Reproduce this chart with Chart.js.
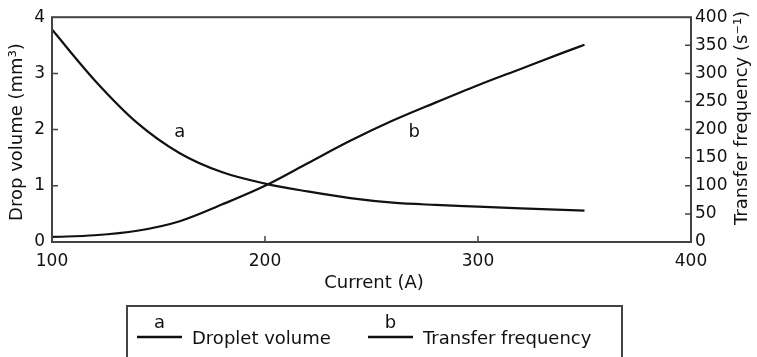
<!DOCTYPE html>
<html>
<head>
<meta charset="utf-8">
<script src="https://cdn.jsdelivr.net/npm/chart.js@4"></script>
<style>
  html, body { margin: 0; padding: 0; background: #fff; }
  canvas { display: block; }
</style>
</head>
<body>
<canvas id="chart" width="757" height="357"></canvas>
<script>
// values
const currents = [100, 120, 140, 160, 180, 200, 220, 240, 260, 280, 300, 320, 340, 350];
const dropVolume = [3.78, 2.88, 2.12, 1.58, 1.24, 1.04, 0.90, 0.78, 0.70, 0.66, 0.63, 0.60, 0.57, 0.56];
const transferFreq = [9, 12, 20, 37, 67, 100, 140, 180, 216, 248, 279, 308, 337, 351];

const seriesNames = ["Droplet volume", "Transfer frequency"];
const seriesLetters = ["a", "b"];
// where the curve letters sit (current, left-axis value)
const letterCurrent = [160, 270];
const letterValue = [1.96, 1.96];

const xTitle = "Current (A)";
const yTitle = "Drop volume (mm³)";
const y2Title = "Transfer frequency (s⁻¹)";

const FONT = "'DejaVu Sans', sans-serif";
const INK = "#111";
const FRAME = "#444";

const points = (ys) => currents.map((c, i) => ({ x: c, y: ys[i] }));

const overlay = {
  id: "overlay",
  afterDraw(chart) {
    const { ctx, chartArea: a, scales } = chart;
    const { x, y, y2 } = scales;
    ctx.save();

    // frame
    ctx.strokeStyle = FRAME;
    ctx.lineWidth = 2;
    ctx.strokeRect(a.left, a.top, a.right - a.left, a.bottom - a.top);

    // inward ticks
    const tl = 6;
    ctx.lineWidth = 1.5;
    ctx.beginPath();
    x.ticks.forEach(t => {
      if (t.value <= x.min || t.value >= x.max) return;
      const px = x.getPixelForValue(t.value);
      ctx.moveTo(px, a.bottom); ctx.lineTo(px, a.bottom - tl);
    });
    y.ticks.forEach(t => {
      if (t.value <= y.min || t.value >= y.max) return;
      const py = y.getPixelForValue(t.value);
      ctx.moveTo(a.left, py); ctx.lineTo(a.left + tl, py);
    });
    y2.ticks.forEach(t => {
      if (t.value <= y2.min || t.value >= y2.max) return;
      const py = y2.getPixelForValue(t.value);
      ctx.moveTo(a.right, py); ctx.lineTo(a.right - tl, py);
    });
    ctx.stroke();

    ctx.fillStyle = INK;
    ctx.font = "18px " + FONT;
    ctx.textAlign = "center";
    ctx.textBaseline = "middle";

    // curve letters
    seriesLetters.forEach((l, i) => {
      ctx.fillText(l, x.getPixelForValue(letterCurrent[i]), y.getPixelForValue(letterValue[i]));
    });

    // axis titles
    ctx.fillText(xTitle, 374, 283);
    ctx.save();
    ctx.translate(17, 132);
    ctx.rotate(-Math.PI / 2);
    ctx.fillText(yTitle, 0, 0);
    ctx.restore();
    ctx.save();
    ctx.translate(742, 118);
    ctx.rotate(-Math.PI / 2);
    ctx.fillText(y2Title, 0, 0);
    ctx.restore();

    // legend
    ctx.strokeStyle = FRAME;
    ctx.lineWidth = 2;
    ctx.strokeRect(127, 306, 495, 70);
    const legendX = [137, 368];
    ctx.lineWidth = 2.5;
    ctx.strokeStyle = INK;
    seriesNames.forEach((name, i) => {
      const lx = legendX[i];
      ctx.beginPath();
      ctx.moveTo(lx, 337); ctx.lineTo(lx + 45, 337);
      ctx.stroke();
      ctx.textAlign = "center";
      ctx.fillText(seriesLetters[i], lx + 22.5, 323);
      ctx.textAlign = "left";
      ctx.fillText(name, lx + 55, 339);
    });

    ctx.restore();
  }
};

const lineStyle = {
  borderColor: INK,
  borderWidth: 2.2,
  pointRadius: 0,
  fill: false,
  cubicInterpolationMode: "monotone",
};

new Chart(document.getElementById("chart").getContext("2d"), {
  type: "line",
  data: {
    datasets: [
      { label: seriesNames[0], data: points(dropVolume), yAxisID: "y", ...lineStyle },
      { label: seriesNames[1], data: points(transferFreq), yAxisID: "y2", ...lineStyle },
    ],
  },
  options: {
    responsive: false,
    animation: false,
    layout: { padding: { top: 17 } },
    plugins: { legend: { display: false }, tooltip: { enabled: false } },
    scales: {
      x: {
        type: "linear",
        min: 100, max: 400,
        grid: { display: false, drawTicks: false },
        border: { display: false },
        ticks: { stepSize: 100, padding: 9, color: INK, font: { family: FONT, size: 17 } },
        afterFit: (s) => { s.height = 115; },
      },
      y: {
        position: "left",
        min: 0, max: 4,
        grid: { display: false, drawTicks: false },
        border: { display: false },
        ticks: { stepSize: 1, padding: 7, color: INK, font: { family: FONT, size: 17 } },
        afterFit: (s) => { s.width = 52; },
      },
      y2: {
        position: "right",
        min: 0, max: 400,
        grid: { display: false, drawTicks: false },
        border: { display: false },
        ticks: { stepSize: 50, padding: 4, color: INK, font: { family: FONT, size: 17 } },
        afterFit: (s) => { s.width = 66; },
      },
    },
  },
  plugins: [overlay],
});
</script>
</body>
</html>
